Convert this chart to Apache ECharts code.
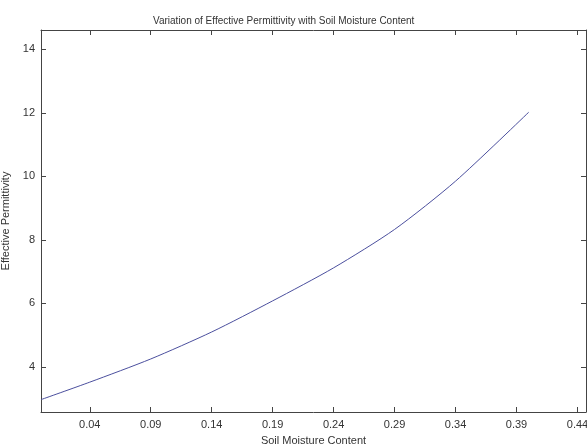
<!DOCTYPE html>
<html>
<head>
<meta charset="utf-8">
<script src="https://cdn.jsdelivr.net/npm/echarts@6/dist/echarts.min.js"></script>
<style>
  html, body { margin: 0; padding: 0; background: #fff; }
  #chart { width: 587px; height: 447px; }
</style>
</head>
<body>
<div id="chart"></div>
<script>
// values
const moisture = [0, 0.04, 0.09, 0.14, 0.19, 0.24, 0.29, 0.34, 0.40]
const permittivity = [2.97, 3.52, 4.25, 5.1, 6.08, 7.12, 8.33, 9.85, 12.02]
const xTicks = [0.04, 0.09, 0.14, 0.19, 0.24, 0.29, 0.34, 0.39, 0.44]
const yTicks = [4, 6, 8, 10, 12, 14]

const font = "'Liberation Sans', Arial, sans-serif"
const frameColor = '#444'

const chart = echarts.init(document.getElementById('chart'))

const baseX = {
  type: 'value',
  min: 0,
  max: 0.447,
  splitLine: { show: false },
  axisLine: { show: true, onZero: false, lineStyle: { color: frameColor, width: 1 } },
  axisTick: { show: true, inside: true, length: 5, customValues: xTicks, lineStyle: { color: frameColor } }
}
const baseY = {
  type: 'value',
  min: 2.58,
  max: 14.61,
  splitLine: { show: false },
  axisLine: { show: true, onZero: false, lineStyle: { color: frameColor, width: 1 } },
  axisTick: { show: true, inside: true, length: 5, customValues: yTicks, lineStyle: { color: frameColor } }
}

const option = {
  backgroundColor: '#fff',
  animation: false,
  title: {
    text: 'Variation of Effective Permittivity with Soil Moisture Content',
    left: 148,
    top: 11,
    textStyle: { fontFamily: font, fontSize: 10, fontWeight: 'normal', color: '#333' }
  },
  grid: { left: 41, right: 1, top: 30, bottom: 35, outerBoundsMode: 'none', containLabel: false },
  xAxis: [
    Object.assign({}, baseX, {
      position: 'bottom',
      name: 'Soil Moisture Content',
      nameLocation: 'middle',
      nameGap: 23,
      nameTextStyle: { fontFamily: font, fontSize: 11, color: '#333' },
      axisLabel: {
        customValues: xTicks,
        margin: 7,
        fontFamily: font, fontSize: 11, color: '#333',
        formatter: v => v.toFixed(2)
      }
    }),
    Object.assign({}, baseX, { position: 'top', axisLabel: { show: false } })
  ],
  yAxis: [
    Object.assign({}, baseY, {
      position: 'left',
      name: 'Effective Permittivity',
      nameLocation: 'middle',
      nameGap: 24,
      nameTextStyle: { fontFamily: font, fontSize: 11, color: '#333' },
      axisLabel: {
        customValues: yTicks,
        margin: 6,
        fontFamily: font, fontSize: 11, color: '#333'
      }
    }),
    Object.assign({}, baseY, { position: 'right', axisLabel: { show: false } })
  ],
  series: [
    {
      type: 'line',
      data: moisture.map((m, i) => [m, permittivity[i]]),
      smooth: 0.25,
      showSymbol: false,
      lineStyle: { color: '#4b4f9e', width: 1 }
    }
  ]
}

chart.setOption(option)
</script>
</body>
</html>
